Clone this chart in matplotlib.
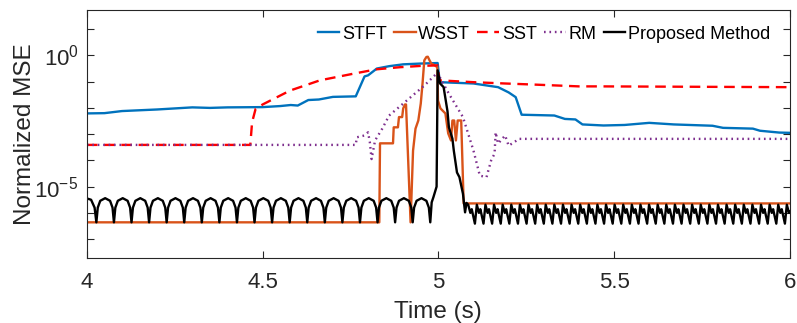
import numpy as np
import matplotlib
matplotlib.use("Agg")
from matplotlib import pyplot as plt
from matplotlib.ticker import FixedLocator, FixedFormatter, NullFormatter

# values are log10(normalized MSE)
stft_t = [4.00, 4.05, 4.10, 4.20, 4.30, 4.35, 4.40, 4.50, 4.55, 4.58, 4.60, 4.63, 4.66, 4.70,
          4.765, 4.79, 4.80, 4.825, 4.86, 4.90, 4.95, 4.998, 5.004, 5.10, 5.17, 5.20, 5.22,
          5.237, 5.33, 5.36, 5.39, 5.41, 5.47, 5.53, 5.60, 5.67, 5.78, 5.81, 5.895, 5.915,
          5.97, 6.00]
stft_v = [-2.21, -2.20, -2.12, -2.06, -1.98, -2.00, -1.98, -1.97, -1.93, -1.89, -1.91, -1.70,
          -1.68, -1.58, -1.56, -0.80, -0.76, -0.50, -0.41, -0.34, -0.31, -0.29, -1.02, -1.07,
          -1.21, -1.41, -1.59, -2.26, -2.29, -2.42, -2.44, -2.63, -2.67, -2.65, -2.57, -2.63,
          -2.68, -2.76, -2.79, -2.87, -2.94, -2.95]

wsst_t = [4.00, 4.832, 4.834, 4.871, 4.873, 4.885, 4.888, 4.897, 4.900, 4.905, 4.908, 4.921,
          4.928, 4.935, 4.943, 4.950, 4.955, 4.960, 4.966, 4.970, 4.975, 4.980, 4.990, 4.997,
          4.999, 5.006, 5.020, 5.028, 5.036, 5.040, 5.045, 5.050, 5.055, 5.065, 5.072, 6.00]
wsst_v = [-6.36, -6.36, -3.35, -3.35, -2.74, -2.74, -2.35, -2.35, -2.02, -1.87, -1.87, -6.36,
          -3.63, -2.79, -2.48, -1.83, -1.07, -0.19, -0.06, -0.05, -0.19, -0.31, -0.38, -0.45,
          -1.72, -2.02, -2.21, -2.97, -3.24, -2.48, -2.48, -3.24, -2.48, -2.48, -5.64, -5.64]

sst_t = [4.00, 4.465, 4.470, 4.480, 4.50, 4.578, 4.663, 4.757, 4.824, 4.89, 4.95, 4.998,
         5.003, 5.10, 5.19, 5.27, 5.40, 5.46, 6.00]
sst_v = [-3.41, -3.41, -2.55, -2.04, -1.87, -1.34, -0.95, -0.70, -0.53, -0.45, -0.40, -0.38,
         -0.95, -1.02, -1.07, -1.11, -1.18, -1.18, -1.21]

rm_t = [4.00, 4.765, 4.768, 4.79, 4.80, 4.805, 4.81, 4.82, 4.84, 4.86, 4.91, 4.96, 4.999,
        5.004, 5.03, 5.07, 5.10, 5.118, 5.137, 5.15, 5.16, 5.163, 5.17, 5.19, 5.20, 5.23, 6.00]
rm_v = [-3.41, -3.41, -3.12, -3.05, -2.93, -3.30, -3.95, -3.24, -2.80, -2.29, -1.72, -1.15,
        -0.64, -0.83, -1.46, -2.35, -3.63, -4.58, -4.64, -4.01, -3.74, -2.93, -3.36, -3.05,
        -3.44, -3.18, -3.18]

# proposed method, left part: one row per arch
prop_arch_t = [
    [4.000, 4.012, 4.022],
    [4.027, 4.031, 4.038, 4.052, 4.066, 4.073],
    [4.077, 4.081, 4.088, 4.102, 4.116, 4.123],
    [4.127, 4.131, 4.138, 4.152, 4.166, 4.173],
    [4.177, 4.181, 4.188, 4.202, 4.216, 4.223],
    [4.227, 4.231, 4.238, 4.252, 4.266, 4.273],
    [4.277, 4.281, 4.288, 4.302, 4.316, 4.323],
    [4.327, 4.331, 4.338, 4.352, 4.366, 4.373],
    [4.377, 4.381, 4.388, 4.402, 4.416, 4.423],
    [4.427, 4.431, 4.438, 4.452, 4.466, 4.473],
    [4.477, 4.481, 4.488, 4.502, 4.516, 4.523],
    [4.527, 4.531, 4.538, 4.552, 4.566, 4.573],
    [4.577, 4.581, 4.588, 4.602, 4.616, 4.623],
    [4.627, 4.631, 4.638, 4.652, 4.666, 4.673],
    [4.677, 4.681, 4.688, 4.702, 4.716, 4.723],
    [4.727, 4.731, 4.738, 4.752, 4.766, 4.773],
    [4.777, 4.781, 4.788, 4.802, 4.816, 4.823],
    [4.827, 4.831, 4.838, 4.852, 4.866, 4.873],
    [4.877, 4.881, 4.888, 4.902, 4.916, 4.923],
    [4.927, 4.931, 4.938, 4.952, 4.966, 4.973],
    [4.977, 4.981, 4.986, 4.995],
]
prop_arch_v = [
    [-5.45, -5.50, -5.80],
    [-6.36, -5.80, -5.54, -5.44, -5.54, -5.80],
    [-6.36, -5.80, -5.54, -5.44, -5.54, -5.80],
    [-6.36, -5.80, -5.54, -5.44, -5.54, -5.80],
    [-6.36, -5.80, -5.54, -5.44, -5.54, -5.80],
    [-6.36, -5.80, -5.54, -5.44, -5.54, -5.80],
    [-6.36, -5.80, -5.54, -5.44, -5.54, -5.80],
    [-6.36, -5.80, -5.54, -5.44, -5.54, -5.80],
    [-6.36, -5.80, -5.54, -5.44, -5.54, -5.80],
    [-6.36, -5.80, -5.54, -5.44, -5.54, -5.80],
    [-6.36, -5.80, -5.54, -5.44, -5.54, -5.80],
    [-6.36, -5.80, -5.54, -5.44, -5.54, -5.80],
    [-6.36, -5.80, -5.54, -5.44, -5.54, -5.80],
    [-6.36, -5.80, -5.54, -5.44, -5.54, -5.80],
    [-6.36, -5.80, -5.54, -5.44, -5.54, -5.80],
    [-6.36, -5.80, -5.54, -5.44, -5.54, -5.80],
    [-6.36, -5.80, -5.54, -5.44, -5.54, -5.80],
    [-6.36, -5.80, -5.54, -5.44, -5.54, -5.80],
    [-6.36, -5.80, -5.54, -5.44, -5.54, -5.80],
    [-6.36, -5.80, -5.54, -5.44, -5.54, -5.80],
    [-6.36, -5.60, -5.40, -5.00],
]

# proposed method, the jump and decay around t = 5 s
prop_mid_t = [4.998, 5.005, 5.015, 5.020, 5.026, 5.030, 5.040, 5.044, 5.053, 5.060, 5.070,
              5.076, 5.080]
prop_mid_v = [-0.57, -1.07, -1.21, -1.64, -2.13, -2.74, -3.17, -3.63, -4.46, -4.64, -5.27,
              -5.98, -5.62]

# proposed method, right part: one row per tooth
prop_tooth_t = [
    [5.0850, 5.0910, 5.0950, 5.1040],
    [5.1095, 5.1155, 5.1195, 5.1285],
    [5.1340, 5.1400, 5.1440, 5.1530],
    [5.1585, 5.1645, 5.1685, 5.1775],
    [5.1830, 5.1890, 5.1930, 5.2020],
    [5.2075, 5.2135, 5.2175, 5.2265],
    [5.2320, 5.2380, 5.2420, 5.2510],
    [5.2565, 5.2625, 5.2665, 5.2755],
    [5.2810, 5.2870, 5.2910, 5.3000],
    [5.3055, 5.3115, 5.3155, 5.3245],
    [5.3300, 5.3360, 5.3400, 5.3490],
    [5.3545, 5.3605, 5.3645, 5.3735],
    [5.3790, 5.3850, 5.3890, 5.3980],
    [5.4035, 5.4095, 5.4135, 5.4225],
    [5.4280, 5.4340, 5.4380, 5.4470],
    [5.4525, 5.4585, 5.4625, 5.4715],
    [5.4770, 5.4830, 5.4870, 5.4960],
    [5.5015, 5.5075, 5.5115, 5.5205],
    [5.5260, 5.5320, 5.5360, 5.5450],
    [5.5505, 5.5565, 5.5605, 5.5695],
    [5.5750, 5.5810, 5.5850, 5.5940],
    [5.5995, 5.6055, 5.6095, 5.6185],
    [5.6240, 5.6300, 5.6340, 5.6430],
    [5.6485, 5.6545, 5.6585, 5.6675],
    [5.6730, 5.6790, 5.6830, 5.6920],
    [5.6975, 5.7035, 5.7075, 5.7165],
    [5.7220, 5.7280, 5.7320, 5.7410],
    [5.7465, 5.7525, 5.7565, 5.7655],
    [5.7710, 5.7770, 5.7810, 5.7900],
    [5.7955, 5.8015, 5.8055, 5.8145],
    [5.8200, 5.8260, 5.8300, 5.8390],
    [5.8445, 5.8505, 5.8545, 5.8635],
    [5.8690, 5.8750, 5.8790, 5.8880],
    [5.8935, 5.8995, 5.9035, 5.9125],
    [5.9180, 5.9240, 5.9280, 5.9370],
    [5.9425, 5.9485, 5.9525, 5.9615],
    [5.9670, 5.9730, 5.9770, 5.9860],
    [5.9915, 5.9975, 6.0000],
]
prop_tooth_v = [
    [-5.69, -6.00, -5.86, -6.41],
    [-5.69, -6.00, -5.86, -6.41],
    [-5.69, -6.00, -5.86, -6.41],
    [-5.69, -6.00, -5.86, -6.41],
    [-5.69, -6.00, -5.86, -6.41],
    [-5.69, -6.00, -5.86, -6.41],
    [-5.69, -6.00, -5.86, -6.41],
    [-5.69, -6.00, -5.86, -6.41],
    [-5.69, -6.00, -5.86, -6.41],
    [-5.69, -6.00, -5.86, -6.41],
    [-5.69, -6.00, -5.86, -6.41],
    [-5.69, -6.00, -5.86, -6.41],
    [-5.69, -6.00, -5.86, -6.41],
    [-5.69, -6.00, -5.86, -6.41],
    [-5.69, -6.00, -5.86, -6.41],
    [-5.69, -6.00, -5.86, -6.41],
    [-5.69, -6.00, -5.86, -6.41],
    [-5.69, -6.00, -5.86, -6.41],
    [-5.69, -6.00, -5.86, -6.41],
    [-5.69, -6.00, -5.86, -6.41],
    [-5.69, -6.00, -5.86, -6.41],
    [-5.69, -6.00, -5.86, -6.41],
    [-5.69, -6.00, -5.86, -6.41],
    [-5.69, -6.00, -5.86, -6.41],
    [-5.69, -6.00, -5.86, -6.41],
    [-5.69, -6.00, -5.86, -6.41],
    [-5.69, -6.00, -5.86, -6.41],
    [-5.69, -6.00, -5.86, -6.41],
    [-5.69, -6.00, -5.86, -6.41],
    [-5.69, -6.00, -5.86, -6.41],
    [-5.69, -6.00, -5.86, -6.41],
    [-5.69, -6.00, -5.86, -6.41],
    [-5.69, -6.00, -5.86, -6.41],
    [-5.69, -6.00, -5.86, -6.41],
    [-5.69, -6.00, -5.86, -6.41],
    [-5.69, -6.00, -5.86, -6.41],
    [-5.69, -6.00, -5.86, -6.41],
    [-5.69, -6.00, -5.95],
]

series_names = ["STFT", "WSST", "SST", "RM", "Proposed Method"]
x_ticks = [4, 4.5, 5, 5.5, 6]
x_ticklabels = ["4", "4.5", "5", "5.5", "6"]
y_ticks = [1e-5, 1e0]
y_ticklabels = [r"$\mathregular{10^{-5}}$", r"$\mathregular{10^{0}}$"]


def flat(rows):
    return [v for row in rows for v in row]


def main():
    plt.rcParams["font.family"] = ["Liberation Sans", "DejaVu Sans"]
    plt.rcParams["mathtext.fontset"] = "custom"
    plt.rcParams["mathtext.rm"] = "Liberation Sans"

    fig = plt.figure(figsize=(7.97, 3.23), dpi=100)
    ax = fig.add_axes([0.109, 0.202, 0.882, 0.767])

    prop_t = flat(prop_arch_t) + prop_mid_t + flat(prop_tooth_t)
    prop_v = flat(prop_arch_v) + prop_mid_v + flat(prop_tooth_v)

    lw = 1.7
    ax.plot(stft_t, 10.0 ** np.array(stft_v), color="#0072BD", lw=lw, label=series_names[0])
    ax.plot(wsst_t, 10.0 ** np.array(wsst_v), color="#D95319", lw=lw, label=series_names[1])
    ax.plot(sst_t, 10.0 ** np.array(sst_v), color="#FF0000", lw=lw,
            dashes=(4.5, 2.8), label=series_names[2])
    ax.plot(rm_t, 10.0 ** np.array(rm_v), color="#7E2F8E", lw=lw,
            dashes=(0.7, 1.6), label=series_names[3])
    ax.plot(prop_t, 10.0 ** np.array(prop_v), color="black", lw=lw, label=series_names[4])

    ax.set_yscale("log")
    ax.set_xlim(4, 6)
    ax.set_ylim(10 ** -7.71, 10 ** 1.73)

    ax.xaxis.set_major_locator(FixedLocator(x_ticks))
    ax.xaxis.set_major_formatter(FixedFormatter(x_ticklabels))
    ax.yaxis.set_major_locator(FixedLocator(y_ticks))
    ax.yaxis.set_major_formatter(FixedFormatter(y_ticklabels))
    ax.yaxis.set_minor_locator(FixedLocator([10.0 ** k for k in range(-7, 2)]))
    ax.yaxis.set_minor_formatter(NullFormatter())

    dark = "#262626"
    ax.tick_params(which="both", direction="in", top=True, right=True, length=5,
                   width=0.8, colors=dark, labelsize=16)
    ax.tick_params(axis="x", pad=10)
    ax.tick_params(axis="y", pad=6)
    for sp in ax.spines.values():
        sp.set_color(dark)
        sp.set_linewidth(0.8)

    ax.set_xlabel("Time (s)", fontsize=17.5, color=dark, labelpad=6)
    ax.set_ylabel("Normalized MSE", fontsize=17.5, color=dark)
    ax.yaxis.set_label_coords(-0.072, 0.5)

    ax.legend(loc="center right", bbox_to_anchor=(0.972, 0.903), ncol=5, frameon=False,
              fontsize=13, handlelength=1.2, handletextpad=0.15, columnspacing=0.4,
              borderpad=0, borderaxespad=0)

    fig.savefig("out.png", dpi=100)


if __name__ == "__main__":
    main()
